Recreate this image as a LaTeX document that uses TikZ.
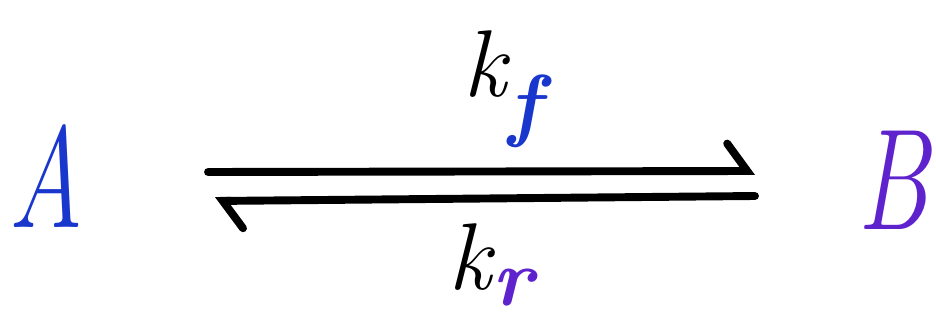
\documentclass[tikz,border=0pt]{standalone}
\usepackage{fontspec}
\usepackage{tikz}
\usetikzlibrary{arrows.meta}
\definecolor{bluA}{RGB}{25,55,205}
\definecolor{violaB}{RGB}{95,35,205}
\newcommand{\stretta}[1]{\scalebox{0.72}[1]{#1}}

\begin{document}
\begin{tikzpicture}[x=0.02cm,y=0.02cm]
    \useasboundingbox (0,0) rectangle (936,321);
    \tikzset{lettera/.style={font=\fontsize{82}{82}\selectfont\itshape, inner sep=0pt},
             kappa/.style={font=\fontsize{54}{54}\selectfont\itshape, inner sep=0pt},
             pedice/.style={font=\fontsize{46}{46}\selectfont\bfseries\itshape, inner sep=0pt},
             freccia/.style={line width=4.5pt, line cap=round,
                             -{Straight Barb[harpoon, length=4mm, width=11mm, line cap=round]}}}

    % specie
    \node[lettera, bluA] (A) at (46,145) {\stretta{A}};
    \node[lettera, violaB] (B) at (893,141) {\stretta{B}};

    % estremi delle frecce
    \coordinate (a1) at (208,149);
    \coordinate (a2) at (755,150);
    \coordinate (b1) at (755,125);
    \coordinate (b2) at (215,120);

    % frecce di equilibrio
    \draw[freccia] (a1) -- (a2);
    \draw[freccia] (b1) -- (b2);

    % costante diretta
    \node[kappa] (kf) at (485,257) {k};
    \node[pedice, bluA] (f) at (525,210) {f};

    % costante inversa
    \node[kappa] (kr) at (470,64) {k};
    \node[pedice, violaB] (r) at (513,33) {r};
\end{tikzpicture}
\end{document}
